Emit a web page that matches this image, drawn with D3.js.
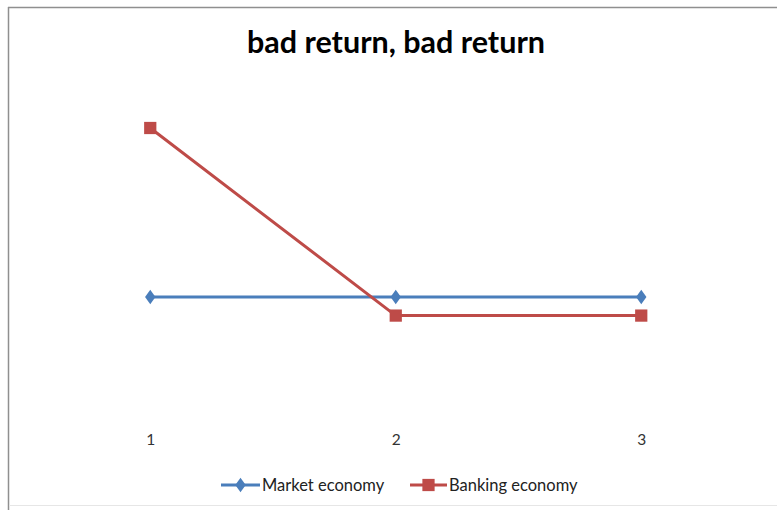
<!DOCTYPE html>
<html>
<head>
<meta charset="utf-8">
<script src="https://cdn.jsdelivr.net/npm/d3@7"></script>
<style>
  html, body { margin: 0; padding: 0; background: #fff; }
  svg { display: block; }
</style>
</head>
<body>
<svg id="chart" width="777" height="510"></svg>
<script>
// Periods on the x axis
const categories = ["1", "2", "3"];
// Return per period for each economy
const marketEconomy = [1.0, 1.0, 1.0];
const bankingEconomy = [2.0, 0.89, 0.89];
const seriesNames = ["Market economy", "Banking economy"];
const seriesColors = ["#4A7EBB", "#BE4B48"];
const titleText = "bad return, bad return";

const svg = d3.select("#chart");
const W = 777, H = 510;
const font = "Lato, 'Open Sans', sans-serif";

// Chart frame
svg.append("line").attr("x1", 8.5).attr("x2", 8.5).attr("y1", 7).attr("y2", 510)
  .attr("stroke", "#8f8f8f").attr("stroke-width", 1.5);
svg.append("line").attr("x1", 8).attr("x2", W).attr("y1", 7.5).attr("y2", 7.5)
  .attr("stroke", "#8f8f8f").attr("stroke-width", 1.5);
svg.append("line").attr("x1", 9).attr("x2", W).attr("y1", 505.5).attr("y2", 505.5)
  .attr("stroke", "#e6e6e6").attr("stroke-width", 1);

// Title
svg.append("text")
  .attr("x", 396).attr("y", 53)
  .attr("text-anchor", "middle")
  .attr("font-family", font)
  .attr("font-weight", "bold")
  .attr("font-size", 30.5)
  .attr("fill", "#000")
  .text(titleText);

// Scales
const x = d3.scalePoint().domain(categories).range([27.5, 764]).padding(0.5);
const y = d3.scaleLinear().domain([0, 2.4]).range([466, 60.4]);

// Category axis: labels only, no line or ticks
const xAxis = svg.append("g")
  .attr("transform", "translate(0,426)")
  .call(d3.axisBottom(x).tickSize(0));
xAxis.select(".domain").remove();
xAxis.selectAll("text")
  .attr("y", 19).attr("dy", 0)
  .attr("font-family", font)
  .attr("font-size", 15.5)
  .attr("fill", "#333");

const series = [marketEconomy, bankingEconomy];
const line = d3.line().x((d, i) => x(categories[i])).y(d => y(d));

const diamond = d3.symbol().type(d3.symbolDiamond).size(60);
const square = d3.symbol().type(d3.symbolSquare).size(150);

function drawMarker(g, k, cx, cy) {
  if (k === 0) {
    g.append("path").attr("d", diamond())
      .attr("transform", `translate(${cx},${cy}) scale(1.25,1)`)
      .attr("fill", seriesColors[k]);
  } else {
    g.append("path").attr("d", square())
      .attr("transform", `translate(${cx},${cy})`)
      .attr("fill", seriesColors[k]);
  }
}

series.forEach((vals, k) => {
  const g = svg.append("g");
  g.append("path").datum(vals)
    .attr("d", line)
    .attr("fill", "none")
    .attr("stroke", seriesColors[k])
    .attr("stroke-width", 3)
    .attr("stroke-linejoin", "round");
  vals.forEach((v, i) => drawMarker(g, k, x(categories[i]), y(v)));
});

// Legend
const legendY = 485;
const legendItems = [
  { lx: 221, tx: 262 },
  { lx: 410, tx: 449 }
];
seriesNames.forEach((name, k) => {
  const g = svg.append("g");
  const it = legendItems[k];
  g.append("line")
    .attr("x1", it.lx).attr("x2", it.tx - 2)
    .attr("y1", legendY).attr("y2", legendY)
    .attr("stroke", seriesColors[k]).attr("stroke-width", 3);
  drawMarker(g, k, (it.lx + it.tx - 2) / 2, legendY);
  g.append("text")
    .attr("x", it.tx).attr("y", legendY + 5.5)
    .attr("font-family", font)
    .attr("font-size", 16.5)
    .attr("fill", "#222")
    .text(name);
});
</script>
</body>
</html>
